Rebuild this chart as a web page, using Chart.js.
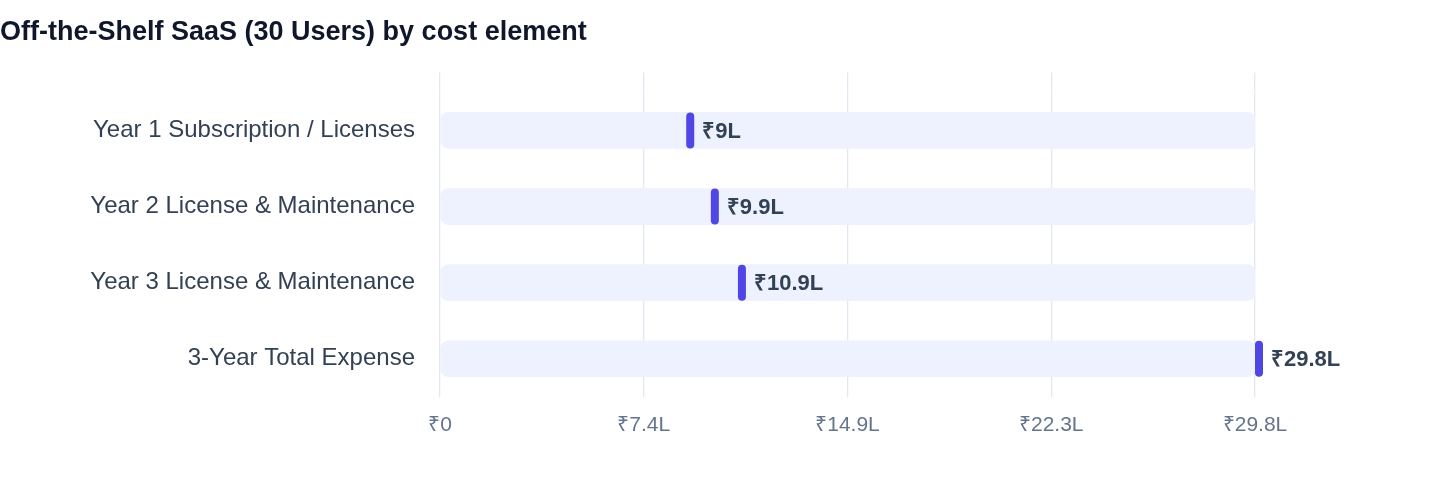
<!DOCTYPE html>
<html>
<head>
<meta charset="utf-8">
<script src="https://cdn.jsdelivr.net/npm/chart.js@4.4.1/dist/chart.umd.min.js"></script>
<style>
  html, body { margin: 0; padding: 0; background: #ffffff; }
  #wrap { width: 1440px; height: 484px; }
</style>
</head>
<body>
<div id="wrap"><canvas id="costChart"></canvas></div>
<script>
// datos del grafico (rupias)
var categorias = [
  "Year 1 Subscription / Licenses",
  "Year 2 License & Maintenance",
  "Year 3 License & Maintenance",
  "3-Year Total Expense"
];
var valores = [900000, 990000, 1089000, 2979000];
var totalMax = 2979000;
var pista = [2979000, 2979000, 2979000, 2979000];
var tickValores = [0, 744750, 1489500, 2234250, 2979000];
var tickEtiquetas = ["₹0", "₹7.4L", "₹14.9L", "₹22.3L", "₹29.8L"];

var FUENTE = "'Liberation Sans', Arial, Helvetica, sans-serif";

function formatoLakh(v) {
  var l = v / 100000;
  if (Math.round(l * 10) % 10 === 0) {
    return "₹" + Math.round(l) + "L";
  }
  return "₹" + l.toFixed(1) + "L";
}

function ponerTicks(scale) {
  scale.ticks = tickValores.map(function (v) { return { value: v }; });
}

// marcador + etiqueta de valor al final de cada barra
var marcadores = {
  id: "marcadores",
  afterDatasetsDraw: function (chart) {
    var ctx = chart.ctx;
    var meta = chart.getDatasetMeta(1);
    ctx.save();
    meta.data.forEach(function (bar, i) {
      var h = bar.height;
      var x = bar.x;
      var y = bar.y;
      ctx.fillStyle = "#4f46e5";
      ctx.beginPath();
      ctx.roundRect(x, y - h / 2, 8, h, 4);
      ctx.fill();

      ctx.fillStyle = "#334155";
      ctx.font = "bold 22px " + FUENTE;
      ctx.textAlign = "left";
      ctx.textBaseline = "middle";
      ctx.fillText(formatoLakh(valores[i]), x + 16, y + 1);
    });
    ctx.restore();
  }
};

var ctx = document.getElementById("costChart").getContext("2d");

var config = {
  type: "bar",
  data: {
    labels: categorias,
    datasets: [
      {
        label: "track",
        data: pista,
        backgroundColor: "#eef2ff",
        borderRadius: 8,
        borderSkipped: false,
        barThickness: 36,
        grouped: false,
        order: 2
      },
      {
        label: "Costo",
        data: valores,
        backgroundColor: "rgba(0,0,0,0)",
        barThickness: 36,
        grouped: false,
        order: 1
      }
    ]
  },
  options: {
    indexAxis: "y",
    responsive: true,
    maintainAspectRatio: false,
    animation: false,
    events: [],
    layout: {
      padding: { left: 0, right: 185, top: 0, bottom: 30 }
    },
    scales: {
      x: {
        position: "bottom",
        min: 0,
        max: totalMax,
        afterBuildTicks: ponerTicks,
        grid: { color: "#e2e8f0", lineWidth: 1.3, drawTicks: false },
        border: { display: false },
        ticks: {
          padding: 16,
          color: "#64748b",
          font: { family: FUENTE, size: 21 },
          callback: function (value, index) { return tickEtiquetas[index]; }
        }
      },
      x2: {
        position: "top",
        axis: "x",
        min: 0,
        max: totalMax,
        afterBuildTicks: ponerTicks,
        grid: { color: "#e2e8f0", lineWidth: 1.3, drawOnChartArea: false, drawTicks: true, tickLength: 20 },
        border: { display: false },
        ticks: { display: false }
      },
      y: {
        afterFit: function (scale) { scale.width = 440; },
        grid: { display: false, drawTicks: false },
        border: { display: false },
        ticks: {
          padding: 25,
          color: "#334155",
          font: { family: FUENTE, size: 24 }
        }
      }
    },
    plugins: {
      legend: { display: false },
      tooltip: { enabled: false },
      title: {
        display: true,
        text: "Off-the-Shelf SaaS (30 Users) by cost element",
        align: "start",
        color: "#0f172a",
        font: { family: FUENTE, size: 27, weight: "bold" },
        padding: { top: 16, bottom: 24 }
      }
    }
  },
  plugins: [marcadores]
};

var grafico = new Chart(ctx, config);
</script>
</body>
</html>
